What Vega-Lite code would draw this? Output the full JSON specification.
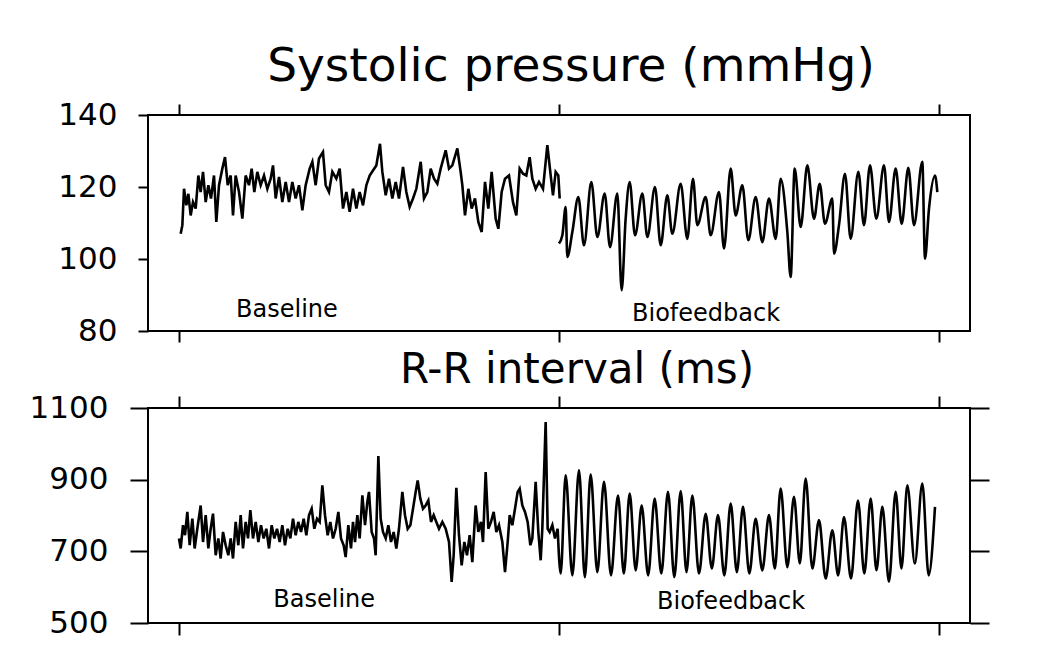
{
  "$schema": "https://vega.github.io/schema/vega-lite/v6.json",
  "background": "white",
  "padding": {"left": 28, "top": 42, "right": 5, "bottom": 5},
  "spacing": 77,
  "bounds": "flush",
  "config": {
    "view": {"stroke": "black", "strokeWidth": 2},
    "font": "DejaVu Sans",
    "axis": {"grid": false, "domain": false, "tickColor": "black", "tickWidth": 2, "labelColor": "black", "labelFont": "DejaVu Sans", "labelFontSize": 31, "labelFlush": false, "labelBound": false, "labelOverlap": false, "format": "d"},
    "title": {"font": "DejaVu Sans", "fontSize": 42, "fontWeight": "normal", "color": "black", "anchor": "middle", "baseline": "alphabetic"}
  },
  "datasets": {
    "sysBase": [
      {"t":0.044,"v":107.0},{"t":0.088,"v":109.4},{"t":0.132,"v":119.5},{"t":0.193,"v":114.9},{"t":0.246,"v":118.1},{"t":0.307,"v":112.1},{"t":0.368,"v":115.8},{"t":0.439,"v":114.0},{"t":0.509,"v":123.2},{"t":0.570,"v":118.6},{"t":0.632,"v":124.2},{"t":0.702,"v":115.8},{"t":0.772,"v":120.5},{"t":0.842,"v":116.8},{"t":0.921,"v":123.2},{"t":0.982,"v":110.3},{"t":1.053,"v":120.5},{"t":1.140,"v":125.1},{"t":1.211,"v":128.3},{"t":1.281,"v":120.5},{"t":1.360,"v":123.2},{"t":1.421,"v":112.1},{"t":1.491,"v":123.2},{"t":1.579,"v":118.6},{"t":1.667,"v":111.2},{"t":1.754,"v":123.2},{"t":1.842,"v":120.5},{"t":1.912,"v":125.1},{"t":1.982,"v":118.6},{"t":2.061,"v":124.2},{"t":2.149,"v":120.5},{"t":2.237,"v":123.2},{"t":2.325,"v":119.5},{"t":2.412,"v":122.3},{"t":2.474,"v":126.0},{"t":2.544,"v":116.8},{"t":2.632,"v":122.8},{"t":2.719,"v":115.8},{"t":2.807,"v":121.4},{"t":2.895,"v":115.8},{"t":2.982,"v":121.4},{"t":3.070,"v":116.8},{"t":3.158,"v":120.5},{"t":3.246,"v":113.5},{"t":3.333,"v":120.5},{"t":3.439,"v":125.1},{"t":3.509,"v":127.0},{"t":3.596,"v":120.5},{"t":3.684,"v":127.9},{"t":3.789,"v":129.7},{"t":3.860,"v":120.5},{"t":3.947,"v":118.6},{"t":4.035,"v":124.2},{"t":4.140,"v":122.3},{"t":4.228,"v":125.1},{"t":4.316,"v":114.0},{"t":4.404,"v":118.6},{"t":4.491,"v":113.1},{"t":4.579,"v":119.5},{"t":4.667,"v":114.0},{"t":4.754,"v":118.6},{"t":4.842,"v":114.9},{"t":4.930,"v":120.5},{"t":5.018,"v":123.2},{"t":5.105,"v":124.6},{"t":5.193,"v":126.0},{"t":5.289,"v":132.0},{"t":5.351,"v":124.2},{"t":5.439,"v":117.7},{"t":5.526,"v":122.3},{"t":5.614,"v":116.8},{"t":5.702,"v":121.4},{"t":5.789,"v":116.8},{"t":5.895,"v":125.6},{"t":5.982,"v":118.6},{"t":6.070,"v":114.5},{"t":6.158,"v":116.8},{"t":6.246,"v":119.5},{"t":6.360,"v":127.0},{"t":6.447,"v":116.8},{"t":6.535,"v":118.6},{"t":6.623,"v":125.1},{"t":6.711,"v":122.3},{"t":6.798,"v":120.9},{"t":6.886,"v":125.1},{"t":7.018,"v":130.2},{"t":7.105,"v":125.1},{"t":7.193,"v":126.0},{"t":7.325,"v":130.7},{"t":7.412,"v":124.2},{"t":7.456,"v":120.5},{"t":7.526,"v":112.1},{"t":7.614,"v":119.5},{"t":7.702,"v":114.0},{"t":7.789,"v":116.8},{"t":7.877,"v":110.3},{"t":7.965,"v":107.5},{"t":8.053,"v":121.4},{"t":8.140,"v":114.0},{"t":8.228,"v":124.2},{"t":8.333,"v":111.2},{"t":8.404,"v":108.4},{"t":8.491,"v":118.6},{"t":8.579,"v":122.3},{"t":8.684,"v":123.2},{"t":8.789,"v":115.8},{"t":8.877,"v":112.1},{"t":8.965,"v":125.1},{"t":9.053,"v":123.7},{"t":9.140,"v":123.2},{"t":9.228,"v":128.3},{"t":9.298,"v":122.3},{"t":9.386,"v":119.5},{"t":9.474,"v":121.4},{"t":9.579,"v":119.5},{"t":9.693,"v":131.6},{"t":9.781,"v":123.2},{"t":9.842,"v":117.7},{"t":9.912,"v":124.2},{"t":9.982,"v":123.2},{"t":10.018,"v":116.8}
    ],
    "sysBio": [
      {"t":10.000,"v":104.3},{"t":10.088,"v":106.6},{"t":10.175,"v":114.4},{"t":10.219,"v":100.6},{"t":10.351,"v":107.5},{"t":10.509,"v":117.2},{"t":10.658,"v":103.8},{"t":10.851,"v":121.4},{"t":11.009,"v":106.1},{"t":11.202,"v":118.2},{"t":11.342,"v":103.3},{"t":11.535,"v":118.2},{"t":11.649,"v":91.3},{"t":11.754,"v":111.2},{"t":11.860,"v":121.4},{"t":12.000,"v":106.6},{"t":12.193,"v":118.2},{"t":12.325,"v":106.1},{"t":12.526,"v":120.0},{"t":12.675,"v":103.8},{"t":12.851,"v":117.7},{"t":12.982,"v":107.0},{"t":13.202,"v":120.9},{"t":13.377,"v":105.6},{"t":13.526,"v":122.3},{"t":13.640,"v":109.4},{"t":13.860,"v":117.2},{"t":13.991,"v":106.6},{"t":14.211,"v":118.6},{"t":14.342,"v":102.9},{"t":14.518,"v":125.1},{"t":14.649,"v":112.1},{"t":14.825,"v":120.5},{"t":14.982,"v":105.2},{"t":15.175,"v":117.2},{"t":15.351,"v":104.7},{"t":15.526,"v":116.8},{"t":15.702,"v":105.6},{"t":15.833,"v":122.3},{"t":16.009,"v":107.5},{"t":16.096,"v":95.0},{"t":16.202,"v":125.1},{"t":16.360,"v":108.9},{"t":16.535,"v":126.0},{"t":16.711,"v":111.2},{"t":16.860,"v":120.9},{"t":17.000,"v":109.8},{"t":17.193,"v":116.8},{"t":17.237,"v":101.5},{"t":17.368,"v":109.4},{"t":17.526,"v":123.7},{"t":17.675,"v":105.6},{"t":17.877,"v":124.2},{"t":18.026,"v":109.4},{"t":18.184,"v":126.0},{"t":18.351,"v":111.2},{"t":18.553,"v":126.0},{"t":18.684,"v":110.3},{"t":18.860,"v":125.1},{"t":19.018,"v":109.8},{"t":19.193,"v":125.3},{"t":19.342,"v":109.4},{"t":19.561,"v":127.0},{"t":19.632,"v":100.1},{"t":19.737,"v":114.0},{"t":19.895,"v":123.2},{"t":19.956,"v":118.6}
    ],
    "rrBase": [
      {"t":0.000,"v":736},{"t":0.044,"v":708},{"t":0.105,"v":773},{"t":0.158,"v":745},{"t":0.219,"v":810},{"t":0.281,"v":717},{"t":0.351,"v":791},{"t":0.412,"v":708},{"t":0.482,"v":763},{"t":0.570,"v":828},{"t":0.632,"v":726},{"t":0.702,"v":801},{"t":0.772,"v":708},{"t":0.833,"v":763},{"t":0.895,"v":805},{"t":0.965,"v":689},{"t":1.035,"v":736},{"t":1.096,"v":680},{"t":1.158,"v":754},{"t":1.228,"v":717},{"t":1.298,"v":689},{"t":1.360,"v":736},{"t":1.421,"v":680},{"t":1.491,"v":782},{"t":1.561,"v":717},{"t":1.623,"v":801},{"t":1.684,"v":708},{"t":1.754,"v":782},{"t":1.816,"v":736},{"t":1.877,"v":815},{"t":1.947,"v":736},{"t":2.018,"v":782},{"t":2.088,"v":726},{"t":2.158,"v":773},{"t":2.228,"v":736},{"t":2.298,"v":763},{"t":2.368,"v":708},{"t":2.439,"v":773},{"t":2.509,"v":736},{"t":2.579,"v":763},{"t":2.649,"v":726},{"t":2.719,"v":773},{"t":2.789,"v":717},{"t":2.860,"v":763},{"t":2.930,"v":736},{"t":3.000,"v":791},{"t":3.070,"v":745},{"t":3.140,"v":782},{"t":3.211,"v":754},{"t":3.281,"v":791},{"t":3.351,"v":745},{"t":3.421,"v":801},{"t":3.491,"v":819},{"t":3.561,"v":763},{"t":3.632,"v":791},{"t":3.702,"v":782},{"t":3.772,"v":884},{"t":3.842,"v":801},{"t":3.912,"v":745},{"t":3.982,"v":782},{"t":4.053,"v":736},{"t":4.123,"v":763},{"t":4.193,"v":810},{"t":4.263,"v":736},{"t":4.333,"v":717},{"t":4.386,"v":684},{"t":4.456,"v":773},{"t":4.526,"v":708},{"t":4.579,"v":782},{"t":4.632,"v":726},{"t":4.693,"v":801},{"t":4.754,"v":736},{"t":4.825,"v":856},{"t":4.895,"v":773},{"t":4.956,"v":838},{"t":5.000,"v":866},{"t":5.070,"v":754},{"t":5.132,"v":736},{"t":5.175,"v":689},{"t":5.246,"v":966},{"t":5.307,"v":791},{"t":5.368,"v":754},{"t":5.439,"v":736},{"t":5.509,"v":773},{"t":5.579,"v":726},{"t":5.649,"v":754},{"t":5.719,"v":708},{"t":5.789,"v":763},{"t":5.877,"v":866},{"t":5.947,"v":801},{"t":6.018,"v":763},{"t":6.088,"v":773},{"t":6.158,"v":819},{"t":6.228,"v":866},{"t":6.281,"v":898},{"t":6.351,"v":847},{"t":6.421,"v":819},{"t":6.491,"v":828},{"t":6.561,"v":842},{"t":6.632,"v":782},{"t":6.702,"v":801},{"t":6.772,"v":782},{"t":6.842,"v":763},{"t":6.930,"v":782},{"t":7.018,"v":763},{"t":7.105,"v":726},{"t":7.175,"v":615},{"t":7.228,"v":689},{"t":7.298,"v":877},{"t":7.368,"v":745},{"t":7.439,"v":661},{"t":7.509,"v":726},{"t":7.579,"v":689},{"t":7.649,"v":745},{"t":7.719,"v":670},{"t":7.807,"v":828},{"t":7.877,"v":754},{"t":7.947,"v":782},{"t":8.000,"v":726},{"t":8.070,"v":921},{"t":8.140,"v":763},{"t":8.211,"v":782},{"t":8.281,"v":810},{"t":8.351,"v":754},{"t":8.421,"v":773},{"t":8.509,"v":726},{"t":8.579,"v":642},{"t":8.649,"v":726},{"t":8.702,"v":801},{"t":8.772,"v":773},{"t":8.842,"v":819},{"t":8.912,"v":866},{"t":8.965,"v":875},{"t":9.035,"v":828},{"t":9.105,"v":810},{"t":9.175,"v":782},{"t":9.246,"v":717},{"t":9.298,"v":736},{"t":9.386,"v":894},{"t":9.456,"v":754},{"t":9.518,"v":675},{"t":9.561,"v":763},{"t":9.649,"v":1061},{"t":9.702,"v":763},{"t":9.754,"v":754},{"t":9.825,"v":773},{"t":9.895,"v":736},{"t":9.965,"v":763}
    ],
    "rrBio": [
      {"t":9.965,"v":763},{"t":10.044,"v":638},{"t":10.175,"v":912},{"t":10.351,"v":633},{"t":10.526,"v":926},{"t":10.680,"v":628},{"t":10.833,"v":914},{"t":11.009,"v":642},{"t":11.184,"v":894},{"t":11.368,"v":633},{"t":11.553,"v":856},{"t":11.706,"v":638},{"t":11.860,"v":861},{"t":12.018,"v":647},{"t":12.175,"v":828},{"t":12.346,"v":633},{"t":12.518,"v":847},{"t":12.693,"v":638},{"t":12.868,"v":866},{"t":13.035,"v":628},{"t":13.202,"v":868},{"t":13.355,"v":642},{"t":13.509,"v":856},{"t":13.684,"v":638},{"t":13.860,"v":805},{"t":14.022,"v":652},{"t":14.184,"v":801},{"t":14.351,"v":633},{"t":14.518,"v":833},{"t":14.680,"v":642},{"t":14.842,"v":824},{"t":15.009,"v":638},{"t":15.175,"v":791},{"t":15.351,"v":647},{"t":15.526,"v":801},{"t":15.680,"v":652},{"t":15.833,"v":875},{"t":16.009,"v":656},{"t":16.184,"v":852},{"t":16.338,"v":666},{"t":16.491,"v":903},{"t":16.667,"v":652},{"t":16.842,"v":787},{"t":17.018,"v":624},{"t":17.193,"v":759},{"t":17.346,"v":633},{"t":17.500,"v":796},{"t":17.684,"v":624},{"t":17.868,"v":842},{"t":18.035,"v":638},{"t":18.202,"v":847},{"t":18.355,"v":647},{"t":18.509,"v":824},{"t":18.684,"v":615},{"t":18.860,"v":866},{"t":19.013,"v":652},{"t":19.167,"v":884},{"t":19.364,"v":666},{"t":19.561,"v":889},{"t":19.728,"v":633},{"t":19.895,"v":824}
    ],
    "sysLabels": [
      {"t":2.84,"v":85.8,"label":"Baseline"},
      {"t":13.87,"v":84.7,"label":"Biofeedback"}
    ],
    "rrLabels": [
      {"t":3.82,"v":564,"label":"Baseline"},
      {"t":14.53,"v":559,"label":"Biofeedback"}
    ]
  },
  "vconcat": [
    {
      "title": {"text": "Systolic pressure (mmHg)", "fontSize": 47, "offset": 8, "dx": 12},
      "width": 822,
      "height": 216,
      "resolve": {"axis": {"x": "independent", "y": "independent"}},
      "layer": [
        {
          "data": {"name": "sysBase"},
          "mark": {"type": "line", "color": "black", "strokeWidth": 2.6},
          "encoding": {
            "x": {"field": "t", "type": "quantitative", "scale": {"domain": [-0.816, 20.816], "nice": false, "zero": false}, "axis": {"orient": "bottom", "values": [0, 10, 20], "labels": false, "tickSize": 11, "title": null}},
            "y": {"field": "v", "type": "quantitative", "scale": {"domain": [80, 140], "nice": false, "zero": false}, "axis": {"orient": "left", "values": [80, 100, 120, 140], "tickSize": 10, "labelPadding": 21, "title": null}}
          }
        },
        {
          "data": {"name": "sysBio"},
          "mark": {"type": "line", "color": "black", "strokeWidth": 2.6, "interpolate": "monotone"},
          "encoding": {
            "x": {"field": "t", "type": "quantitative", "scale": {"domain": [-0.816, 20.816], "nice": false, "zero": false}, "axis": null},
            "y": {"field": "v", "type": "quantitative", "scale": {"domain": [80, 140], "nice": false, "zero": false}, "axis": null}
          }
        },
        {
          "data": {"name": "sysLabels"},
          "mark": {"type": "text", "font": "DejaVu Sans", "fontSize": 24, "color": "black", "align": "center", "baseline": "middle"},
          "encoding": {
            "x": {"field": "t", "type": "quantitative", "scale": {"domain": [-0.816, 20.816], "nice": false, "zero": false}, "axis": {"orient": "top", "values": [0, 10, 20], "labels": false, "tickSize": 11, "title": null}},
            "y": {"field": "v", "type": "quantitative", "scale": {"domain": [80, 140], "nice": false, "zero": false}, "axis": null},
            "text": {"field": "label"}
          }
        }
      ]
    },
    {
      "title": {"text": "R-R interval (ms)", "offset": 0, "dx": 18},
      "width": 822,
      "height": 215,
      "resolve": {"axis": {"x": "independent", "y": "independent"}},
      "layer": [
        {
          "data": {"name": "rrBase"},
          "mark": {"type": "line", "color": "black", "strokeWidth": 2.6},
          "encoding": {
            "x": {"field": "t", "type": "quantitative", "scale": {"domain": [-0.816, 20.816], "nice": false, "zero": false}, "axis": {"orient": "bottom", "values": [0, 10, 20], "labels": false, "tickSize": 12, "title": null}},
            "y": {"field": "v", "type": "quantitative", "scale": {"domain": [500, 1100], "nice": false, "zero": false}, "axis": {"orient": "left", "values": [500, 700, 900, 1100], "tickSize": 18, "labelPadding": 22, "title": null}}
          }
        },
        {
          "data": {"name": "rrBio"},
          "mark": {"type": "line", "color": "black", "strokeWidth": 2.6, "interpolate": "monotone"},
          "encoding": {
            "x": {"field": "t", "type": "quantitative", "scale": {"domain": [-0.816, 20.816], "nice": false, "zero": false}, "axis": null},
            "y": {"field": "v", "type": "quantitative", "scale": {"domain": [500, 1100], "nice": false, "zero": false}, "axis": null}
          }
        },
        {
          "data": {"name": "rrLabels"},
          "mark": {"type": "text", "font": "DejaVu Sans", "fontSize": 24, "color": "black", "align": "center", "baseline": "middle"},
          "encoding": {
            "x": {"field": "t", "type": "quantitative", "scale": {"domain": [-0.816, 20.816], "nice": false, "zero": false}, "axis": {"orient": "top", "values": [0, 10, 20], "labels": false, "tickSize": 12, "title": null}},
            "y": {"field": "v", "type": "quantitative", "scale": {"domain": [500, 1100], "nice": false, "zero": false}, "axis": {"orient": "right", "values": [500, 700, 900, 1100], "labels": false, "tickSize": 19, "title": null}},
            "text": {"field": "label"}
          }
        }
      ]
    }
  ]
}
